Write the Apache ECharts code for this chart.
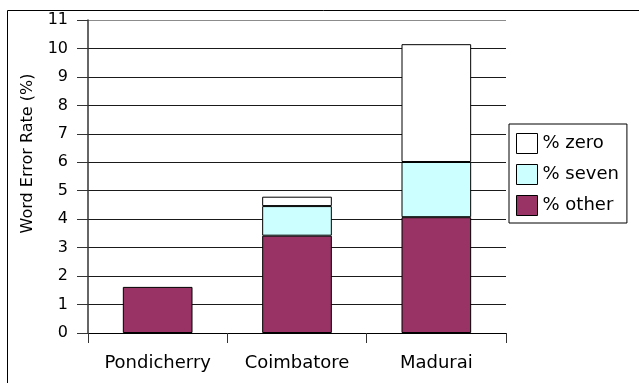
<!DOCTYPE html>
<html>
<head>
<meta charset="utf-8">
<script src="https://cdn.jsdelivr.net/npm/echarts@6/dist/echarts.min.js"></script>
<style>
  html, body { margin: 0; padding: 0; background: #fff; }
  #chart { width: 639px; height: 383px; }
</style>
</head>
<body>
<div id="chart"></div>
<script>
// data
const cities = ['Pondicherry', 'Coimbatore', 'Madurai'];
const pctOther = [1.62, 3.42, 4.07];
const pctSeven = [0, 1.04, 1.94];
const pctZero = [0, 0.33, 4.14];
const yTicks = { min: 0, max: 11, step: 1 };

const chart = echarts.init(document.getElementById('chart'));

// grid lines: black, top one grey
const gridColors = [];
for (let i = yTicks.min; i <= yTicks.max; i++) {
    gridColors.push(i === yTicks.max ? '#8c8c8c' : '#1a1a1a');
}

// empty segments are not drawn (no doubled border on top of the bar)
const seg = arr => arr.map(v => (v === 0 ? '-' : v));

const barBase = { type: 'bar', stack: 'wer', barWidth: '50%' };
const fontFamily = 'DejaVu Sans';

const option = {
    animation: false,
    textStyle: { fontFamily: fontFamily },
    graphic: [{
        type: 'rect',
        left: 5, top: 8,
        shape: { width: 700, height: 420 },
        style: { fill: 'none', stroke: '#000', lineWidth: 1 },
        silent: true
    }],
    grid: { left: 88, right: 133, top: 20, bottom: 50 },
    legend: {
        orient: 'vertical',
        left: 509, top: 124,
        data: ['% zero', '% seven', '% other'],
        backgroundColor: '#fff',
        borderColor: '#000',
        borderWidth: 1,
        padding: [9, 8, 7, 7],
        itemWidth: 21,
        itemHeight: 20,
        itemGap: 10,
        icon: 'rect',
        itemStyle: { borderColor: '#000', borderWidth: 1 },
        textStyle: { fontSize: 18, color: '#000', fontFamily: fontFamily }
    },
    xAxis: {
        type: 'category',
        data: cities,
        boundaryGap: true,
        axisLine: { lineStyle: { color: '#000', width: 1 } },
        axisTick: { show: true, length: 10, lineStyle: { color: '#333' } },
        axisLabel: { fontSize: 18, color: '#000', margin: 21, fontFamily: fontFamily }
    },
    yAxis: {
        type: 'value',
        min: yTicks.min, max: yTicks.max, interval: yTicks.step,
        name: 'Word Error Rate (%)',
        nameLocation: 'middle',
        nameGap: 52,
        nameTextStyle: { fontSize: 16, color: '#000', fontFamily: fontFamily, padding: [0, 0, 0, 46] },
        axisLine: { show: true, lineStyle: { color: '#333', width: 1.5 } },
        axisTick: { show: true, length: 11, lineStyle: { color: '#333' } },
        axisLabel: { fontSize: 16, color: '#000', margin: 20, fontFamily: fontFamily },
        splitLine: { show: true, lineStyle: { color: gridColors, width: 1 } }
    },
    series: [
        Object.assign({}, barBase, {
            name: '% other', data: seg(pctOther),
            itemStyle: { color: '#993366', borderColor: '#000', borderWidth: 1 }
        }),
        Object.assign({}, barBase, {
            name: '% seven', data: seg(pctSeven),
            itemStyle: { color: '#ccffff', borderColor: '#000', borderWidth: 1 }
        }),
        Object.assign({}, barBase, {
            name: '% zero', data: seg(pctZero),
            itemStyle: { color: '#ffffff', borderColor: '#000', borderWidth: 1 }
        })
    ]
};

chart.setOption(option);
</script>
</body>
</html>
